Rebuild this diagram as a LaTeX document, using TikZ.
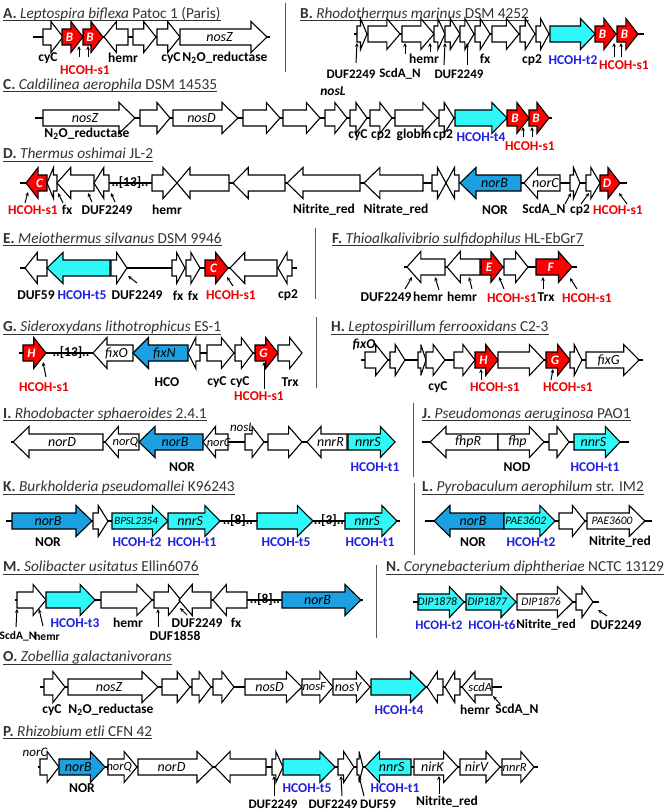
\documentclass[tikz,border=0pt]{standalone}
\usepackage{fontspec}
\setmainfont{Carlito}
\usetikzlibrary{arrows.meta}
\definecolor{gred}{HTML}{FF0000}
\definecolor{gcyan}{HTML}{30F8F8}
\definecolor{gblue}{HTML}{1BA1E2}
\definecolor{lblue}{HTML}{2020E0}
\definecolor{lred}{HTML}{F00000}
\definecolor{ttlc}{HTML}{333333}
\newcounter{nd}
\tikzset{
 gene/.style={draw=black, line width=1.1pt, fill=white, line join=miter, miter limit=6},
 rg/.style={fill=gred},
 cg/.style={fill=gcyan},
 bg/.style={fill=gblue},
 gt/.style={font=\fontsize{14}{14}\selectfont\itshape, inner sep=0pt},
 lab/.style={font=\fontsize{13.5}{13.5}\selectfont\bfseries, inner sep=0pt, text=black},
 lr/.style={text=lred},
 lb/.style={text=lblue},
 li/.style={font=\fontsize{13.5}{13.5}\selectfont\bfseries\itshape},
 ttl/.style={font=\fontsize{15.3}{15.3}\selectfont, inner sep=0pt, text=ttlc, anchor=base west},
 bb/.style={line width=1.4pt, draw=black},
 ptr/.style={line width=1pt, draw=black, -{Stealth[length=4pt,width=3.6pt]}},
 sepl/.style={line width=1pt, draw=black!65},
}
\newcommand{\RL}[1]{\textcolor{white}{\fontsize{13}{13}\selectfont\bfseries #1}}
\newcommand{\sm}[1]{\fontsize{11.5}{11.5}\selectfont #1}
% right-pointing gene: [style]{x1}{x2 tip}{y}{text}
\newcommand{\gR}[5][]{%
 \pgfmathsetmacro{\gln}{#3-#2}%
 \pgfmathsetmacro{\ghl}{min(16,10+0.1*\gln,0.65*\gln)}%
 \pgfmathsetmacro{\ghb}{#3-\ghl}%
 \pgfmathsetmacro{\gtc}{(#2+\ghb)/2+0.25*\ghl}%
 \stepcounter{nd}%
 \draw[gene,#1] (#2,#4-8) -- (\ghb,#4-8) -- (\ghb,#4-15.5) -- (#3,#4) -- (\ghb,#4+15.5) -- (\ghb,#4+8) -- (#2,#4+8) -- cycle;
 \node[gt] (n\arabic{nd}) at (\gtc,#4) {#5};%
}
% left-pointing gene: [style]{x1 tip}{x2}{y}{text}
\newcommand{\gL}[5][]{%
 \pgfmathsetmacro{\gln}{#3-#2}%
 \pgfmathsetmacro{\ghl}{min(16,10+0.1*\gln,0.65*\gln)}%
 \pgfmathsetmacro{\ghb}{#2+\ghl}%
 \pgfmathsetmacro{\gtc}{(#3+\ghb)/2-0.25*\ghl}%
 \stepcounter{nd}%
 \draw[gene,#1] (#3,#4-8) -- (\ghb,#4-8) -- (\ghb,#4-15.5) -- (#2,#4) -- (\ghb,#4+15.5) -- (\ghb,#4+8) -- (#3,#4+8) -- cycle;
 \node[gt] (n\arabic{nd}) at (\gtc,#4) {#5};%
}
% genes with given head length (tips meeting)
\newcommand{\gRx}[5][]{%
 \pgfmathsetmacro{\ghb}{#3-#5}%
 \draw[gene,#1] (#2,#4-8) -- (\ghb,#4-8) -- (\ghb,#4-15.5) -- (#3,#4) -- (\ghb,#4+15.5) -- (\ghb,#4+8) -- (#2,#4+8) -- cycle;}
\newcommand{\gLx}[5][]{%
 \pgfmathsetmacro{\ghb}{#2+#5}%
 \draw[gene,#1] (#3,#4-8) -- (\ghb,#4-8) -- (\ghb,#4-15.5) -- (#2,#4) -- (\ghb,#4+15.5) -- (\ghb,#4+8) -- (#3,#4+8) -- cycle;}
\newcommand{\lab}[4][]{\stepcounter{nd}\node[lab,#1] (n\arabic{nd}) at (#2,#3) {#4};}
\newcommand{\ptr}[4]{\draw[ptr] (#1,#2) -- (#3,#4);}
\newcommand{\ttl}[5]{%
 \node[ttl] (t#3) at (#1,#2) {\textbf{#3.} \textit{#4} #5};%
 \draw[ttlc, line width=0.8pt] ([yshift=-2.4pt]t#3.base west) -- ([yshift=-2.4pt]t#3.base east);}
\newcommand{\gap}[3]{\stepcounter{nd}\node[lab] (n\arabic{nd}) at (#1,#2) {#3};}
\begin{document}
\begin{tikzpicture}[x=1pt,y=-1pt]
\useasboundingbox[fill=white] (0,0) rectangle (664,811);
% separators
\draw[sepl] (285,3) -- (285,72);
\draw[sepl] (315,228) -- (315,299);
\draw[sepl] (316,317) -- (316,388);
\draw[sepl] (413,403) -- (413,477);
\draw[sepl] (414,483) -- (414,555);
\draw[sepl] (376,565) -- (376,638);

% ---------- A ----------
\ttl{3}{18.3}{A}{Leptospira biflexa}{Patoc 1 (Paris)}
\draw[bb] (33,37) -- (270,37);
\gR{43}{63}{37}{}
\gR[rg]{62}{83}{37}{\RL{B}}
\gR[rg]{83}{103}{37}{\RL{B}}
\gL{104}{128}{37}{}
\gR{133}{156}{37}{}
\gR{157}{180}{37}{}
\gR{180}{267}{37}{nosZ}
\lab{48}{58}{cyC}
\lab{123}{58}{hemr}
\lab{171}{58}{cyC}
\lab{225}{58}{N\textsubscript{2}O\_reductase}
\lab[lr]{85}{70}{HCOH-s1}
\ptr{79}{57}{79}{46}
\ptr{88}{57}{88}{46}

% ---------- B ----------
\ttl{300}{18.3}{B}{Rhodothermus marinus}{DSM 4252}
\draw[bb] (354,34) -- (644,34);
\gR{357}{367}{34}{}
\gR{368}{400}{34}{}
\gR{402}{434}{34}{}
\gR{434}{445}{34}{}
\gR{445}{460}{34}{}
\gR{460}{474}{34}{}
\gR{475}{490}{34}{}
\gR{492}{519}{34}{}
\gR{520}{535}{34}{}
\gR{536}{549}{34}{}
\gR[cg]{550}{595}{34}{}
\gR[rg]{595}{616}{34}{\RL{B}}
\gR[rg]{617}{638}{34}{\RL{B}}
\lab[font=\fontsize{13}{13}\selectfont\bfseries]{351}{74}{DUF2249}
\lab[font=\fontsize{13}{13}\selectfont\bfseries]{400}{74}{ScdA\_N}
\lab{424}{59}{hemr}
\lab[font=\fontsize{13}{13}\selectfont\bfseries]{459}{74}{DUF2249}
\lab{485}{59}{fx}
\lab{532}{60}{cp2}
\lab[lb]{573}{60}{HCOH-t2}
\lab[lr]{624}{65}{HCOH-s1}
\ptr{356}{63}{357}{43}
\ptr{405}{54}{405}{43}
\ptr{430}{52}{430}{43}
\ptr{444}{65}{445}{43}
\ptr{467}{65}{467}{43}
\ptr{614}{57}{614}{43}
\ptr{621}{57}{621}{43}

% ---------- C ----------
\ttl{3}{89.3}{C}{Caldilinea aerophila}{DSM 14535}
\draw[bb] (35,118) -- (552,118);
\gR{43}{135}{118}{nosZ}
\gR{140}{170}{118}{}
\gR{173}{238}{118}{nosD}
\gR{243}{280}{118}{}
\gR{283}{320}{118}{}
\gR{325}{347}{118}{}
\gR{350}{367}{118}{}
\gR{370}{392}{118}{}
\gR{395}{437}{118}{}
\gR{439}{454}{118}{}
\gR[cg]{455}{507}{118}{}
\gR[rg]{507}{529}{118}{\RL{B}}
\gR[rg]{529}{549}{118}{\RL{B}}
\lab{87}{134}{N\textsubscript{2}O\_reductase}
\lab[li]{333}{91}{nosL}
\lab{358}{135}{cyC}
\lab{381}{135}{cp2}
\lab{414}{135}{globin}
\lab{443}{135}{cp2}
\lab[lb]{481}{137}{HCOH-t4}
\lab[lr]{530}{146}{HCOH-s1}
\ptr{523}{137}{523}{127}
\ptr{532}{137}{532}{127}

% ---------- D ----------
\ttl{3}{158.5}{D}{Thermus oshimai}{JL-2}
\draw[bb] (20,183) -- (627,183);
\gL[rg]{26}{47}{183}{\RL{C}}
\gL{47}{57}{183}{}
\gL{57}{94}{183}{}
\gL{94}{109}{183}{}
\gap{130}{183}{..[13]..}
\gRx{152}{177}{183}{14}
\gLx{177}{229}{183}{13}
\gL{233}{285}{183}{}
\gL{287}{360}{183}{}
\gL{364}{423}{183}{}
\gRx{432}{446}{183}{8.5}
\gLx{446}{459}{183}{8.5}
\gL[bg]{460}{521}{183}{norB}
\gL{524}{560}{183}{norC}
\gR{570}{580}{183}{}
\gR{586}{600}{183}{}
\gR[rg]{600}{620}{183}{\RL{D}}
\lab[lr]{33}{210}{HCOH-s1}
\lab{67}{210}{fx}
\lab{107}{210}{DUF2249}
\lab{167}{210}{hemr}
\lab{324}{210}{Nitrite\_red}
\lab{396}{210}{Nitrate\_red}
\lab{495}{210}{NOR}
\lab{544}{210}{ScdA\_N}
\lab{580}{210}{cp2}
\lab[lr]{618}{210}{HCOH-s1}
\ptr{25}{203}{28}{192}
\ptr{63}{203}{58}{193}
\ptr{92}{202}{88}{193}
\ptr{115}{202}{111}{193}
\ptr{565}{204}{571}{193}
\ptr{581}{204}{589}{193}
\ptr{627}{204}{619}{193}

% ---------- E ----------
\ttl{3}{243.3}{E}{Meiothermus silvanus}{DSM 9946}
\draw[bb] (20,268) -- (297,268);
\gL{25}{47}{268}{}
\gL[cg]{47}{110}{268}{}
\gR{111}{127}{268}{}
\gR{172}{185}{268}{}
\gR{186}{200}{268}{}
\gR[rg]{205}{228}{268}{\RL{C}}
\gL{230}{277}{268}{}
\gL{278}{292}{268}{}
\lab{36}{295}{DUF59}
\lab[lb]{82}{295}{HCOH-t5}
\lab{137}{295}{DUF2249}
\lab{178}{296}{fx}
\lab{193}{296}{fx}
\lab[lr]{231}{295}{HCOH-s1}
\lab{288}{295}{cp2}
\ptr{137}{283}{128}{276}
\ptr{233}{286}{227}{277}

% ---------- F ----------
\ttl{332}{243.3}{F}{Thioalkalivibrio sulfidophilus}{HL-EbGr7}
\draw[bb] (404,267) -- (577,267);
\gL{407}{445}{267}{}
\gL{447}{480}{267}{}
\gR[rg]{481}{503}{267}{\RL{E}}
\gR{504}{528}{267}{}
\gR[rg]{536}{572}{267}{\RL{F}}
\lab{386}{297}{DUF2249}
\lab{428}{297}{hemr}
\lab{462}{297}{hemr}
\lab[lr]{512}{298}{HCOH-s1}
\lab{546}{297}{Trx}
\lab[lr]{587}{298}{HCOH-s1}
\ptr{405}{289}{412}{277}
\ptr{439}{290}{435}{277}
\ptr{472}{289}{469}{277}
\ptr{504}{289}{499}{277}
\ptr{543}{289}{543}{277}
\ptr{577}{289}{570}{278}

% ---------- G ----------
\ttl{3}{331.7}{G}{Sideroxydans lithotrophicus}{ES-1}
\draw[bb] (19,353) -- (302,353);
\gR[rg]{23}{46}{353}{\RL{H}}
\gap{71}{353}{..[13]..}
\gL{93}{133}{353}{fixO}
\gL[bg]{133}{188}{353}{fixN}
\gL{188}{200}{353}{}
\gR{207}{234}{353}{}
\gR{235}{253}{353}{}
\gR[rg]{255}{278}{353}{\RL{G}}
\gR{278}{302}{353}{}
\lab[lr]{44}{387}{HCOH-s1}
\lab{167}{382}{HCO}
\lab{217}{382}{cyC}
\lab{240}{382}{cyC}
\lab[lr]{259}{396}{HCOH-s1}
\lab{290}{382}{Trx}
\ptr{46}{377}{43}{362}
\ptr{264}{389}{264}{362}

% ---------- H ----------
\ttl{331}{331.7}{H}{Leptospirillum ferrooxidans}{C2-3}
\draw[bb] (361,360) -- (643,360);
\gR{365}{388}{360}{}
\gR{390}{405}{360}{}
\gR{418}{426}{360}{}
\gR{426}{445}{360}{}
\gR{454}{475}{360}{}
\gR[rg]{475}{498}{360}{\RL{H}}
\gR{498}{544}{360}{}
\gR[rg]{546}{570}{360}{\RL{G}}
\gR{570}{582}{360}{}
\gR{586}{639}{360}{fixG}
\lab[li]{364}{345}{fixO}
\lab{438}{387}{cyC}
\lab[lr]{495}{387}{HCOH-s1}
\lab[lr]{568}{387}{HCOH-s1}
\ptr{481}{380}{481}{369}
\ptr{551}{380}{553}{369}

% ---------- I ----------
\ttl{3}{418.3}{I}{Rhodobacter sphaeroides}{2.4.1}
\draw[bb] (11,442) -- (395,442);
\gL{13}{103}{442}{norD}
\gL{105}{139}{442}{\fontsize{12.5}{12.5}\selectfont norQ}
\gL[bg]{139}{203}{442}{norB}
\gL{203}{228}{442}{\fontsize{12.5}{12.5}\selectfont norC}
\gR{245}{264}{442}{}
\gR{268}{302}{442}{}
\gL{307}{347}{442}{nnrR}
\gR[cg]{348}{395}{442}{nnrS}
\lab[li,font=\fontsize{13}{13}\selectfont\itshape]{242}{427}{nosL}
\lab{182}{467}{NOR}
\lab[lb]{375}{467}{HCOH-t1}

% ---------- J ----------
\ttl{422}{418.3}{J}{Pseudomonas aeruginosa}{PAO1}
\draw[bb] (422,442) -- (629,442);
\gL{430}{498}{442}{fhpR}
\gR{498}{544}{442}{fhp}
\gR{549}{569}{442}{}
\gR[cg]{574}{620}{442}{nnrS}
\lab{517}{467}{NOD}
\lab[lb]{595}{467}{HCOH-t1}

% ---------- K ----------
\ttl{3}{491.7}{K}{Burkholderia pseudomallei}{K96243}
\draw[bb] (6,521) -- (400,521);
\gR[bg]{12}{92}{521}{norB}
\gR{93}{108}{521}{}
\gR[cg]{112}{168}{521}{\fontsize{11}{11}\selectfont BPSL2354}
\gR[cg]{168}{220}{521}{nnrS}
\gap{238}{521}{..[8]..}
\gR[cg]{257}{313}{521}{}
\gap{329}{521}{..[3]..}
\gR[cg]{345}{397}{521}{nnrS}
\lab{48}{542}{NOR}
\lab[lb]{137}{542}{HCOH-t2}
\lab[lb]{192}{542}{HCOH-t1}
\lab[lb]{286}{542}{HCOH-t5}
\lab[lb]{370}{542}{HCOH-t1}

% ---------- L ----------
\ttl{422}{491.7}{L}{Pyrobaculum aerophilum}{str. IM2}
\draw[bb] (425,521) -- (652,521);
\gL[bg]{434}{504}{521}{norB}
\gR[cg]{504}{555}{521}{\sm{PAE3602}}
\gR{559}{585}{521}{}
\gR{587}{645}{521}{\sm{PAE3600}}
\lab{473}{542}{NOR}
\lab[lb]{531}{542}{HCOH-t2}
\lab{620}{542}{Nitrite\_red}

% ---------- M ----------
\ttl{3}{571.7}{M}{Solibacter usitatus}{Ellin6076}
\draw[bb] (15,600) -- (363,600);
\gR{17}{46}{600}{}
\gR[cg]{46}{95}{600}{}
\gR{101}{152}{600}{}
\gR{154}{181}{600}{}
\gL{179}{211}{600}{}
\gL{213}{247}{600}{}
\gap{265}{600}{..[8]..}
\gR[bg]{282}{361}{600}{norB}
\lab[font=\fontsize{11.5}{11.5}\selectfont\bfseries]{18}{636}{ScdA\_N}
\lab[font=\fontsize{11.5}{11.5}\selectfont\bfseries]{47}{636}{hemr}
\lab[lb]{75}{623}{HCOH-t3}
\lab{128}{623}{hemr}
\lab{175}{636}{DUF1858}
\lab{197}{623}{DUF2249}
\lab{236}{623}{fx}
\ptr{16}{627}{17}{609}
\ptr{43}{626}{39}{609}
\ptr{158}{627}{158}{609}
\ptr{187}{615}{180}{608}

% ---------- N ----------
\ttl{386}{571.7}{N}{Corynebacterium diphtheriae}{NCTC 13129}
\draw[bb] (413,602) -- (599,602);
\gR[cg]{418}{464}{602}{\sm{DIP1878}}
\gR[cg]{466}{516}{602}{\sm{DIP1877}}
\gR{517}{573}{602}{\sm{DIP1876}}
\gR{576}{593}{602}{}
\lab[lb,font=\fontsize{13}{13}\selectfont\bfseries]{439}{625}{HCOH-t2}
\lab[lb,font=\fontsize{13}{13}\selectfont\bfseries]{492}{625}{HCOH-t6}
\lab[font=\fontsize{13}{13}\selectfont\bfseries]{546}{625}{Nitrite\_red}
\lab{616}{625}{DUF2249}
\ptr{607}{616}{598}{610}

% ---------- O ----------
\ttl{3}{661.7}{O}{Zobellia galactanivorans}{}
\draw[bb] (40,687) -- (502,687);
\gR{44}{65}{687}{}
\gR{68}{158}{687}{nosZ}
\gR{162}{190}{687}{}
\gR{192}{211}{687}{}
\gR{213}{234}{687}{}
\gR{245}{302}{687}{nosD}
\gR{302}{333}{687}{\fontsize{12.5}{12.5}\selectfont nosF}
\gR{333}{370}{687}{nosY}
\gR[cg]{371}{426}{687}{}
\gL{427}{443}{687}{}
\gL{445}{460}{687}{}
\gL{462}{492}{687}{\fontsize{12.5}{12.5}\selectfont scdA}
\lab{52}{710}{cyC}
\lab{111}{710}{N\textsubscript{2}O\_reductase}
\lab[lb]{399}{710}{HCOH-t4}
\lab{475}{710}{hemr}
\lab{517}{710}{ScdA\_N}
\ptr{500}{704}{493}{696}

% ---------- P ----------
\ttl{3}{736}{P}{Rhizobium etli}{CFN 42}
\draw[bb] (38,767) -- (538,767);
\gR{40}{59}{767}{}
\gR[bg]{59}{105}{767}{norB}
\gR{108}{137}{767}{\fontsize{12.5}{12.5}\selectfont norQ}
\gR{138}{213}{767}{norD}
\gL{215}{266}{767}{}
\gR{272}{283}{767}{}
\gR[cg]{283}{335}{767}{}
\gR{338}{354}{767}{}
\gR{357}{363}{767}{}
\gL[cg]{365}{411}{767}{nnrS}
\gR{414}{458}{767}{nirK}
\gR{460}{500}{767}{nirV}
\gR{502}{534}{767}{\fontsize{12.5}{12.5}\selectfont nnrR}
\lab[li,font=\fontsize{13}{13}\selectfont\itshape]{35}{752}{norC}
\lab{82}{788}{NOR}
\lab[lb]{307}{788}{HCOH-t5}
\lab[lb]{395}{788}{HCOH-t1}
\lab[font=\fontsize{13}{13}\selectfont\bfseries]{273}{804}{DUF2249}
\lab[font=\fontsize{13}{13}\selectfont\bfseries]{333}{804}{DUF2249}
\lab[font=\fontsize{13}{13}\selectfont\bfseries]{378}{804}{DUF59}
\lab{447}{802}{Nitrite\_red}
\ptr{274}{796}{274}{776}
\ptr{342}{796}{341}{776}
\ptr{364}{796}{359}{776}
\ptr{439}{794}{439}{776}
\end{tikzpicture}
\end{document}
